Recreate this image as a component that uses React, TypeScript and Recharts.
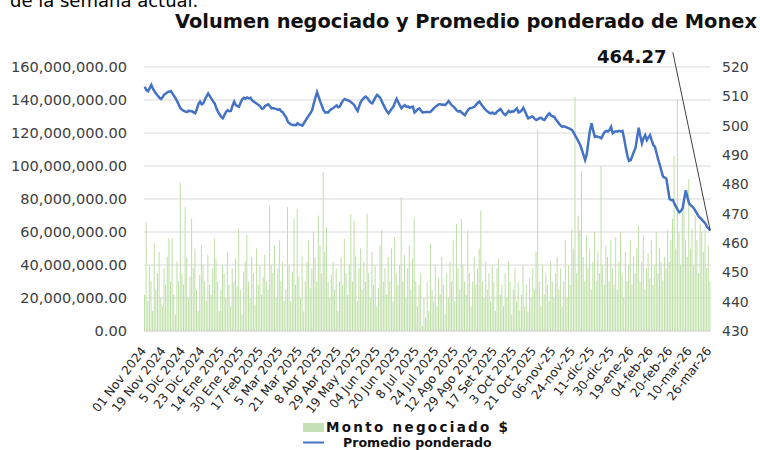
import React from "react";
import { Bar, CartesianGrid, ComposedChart, Line, ReferenceLine, XAxis, YAxis } from "recharts";

const TICK_LABELS = [
  "01 Nov 2024", "19 Nov 2024", "5 Dic 2024", "23 Dic 2024", "14 Ene 2025", "30 Ene 2025",
  "17 Feb 2025", "5 Mar 2025", "21 Mar 2025", "8 Abr 2025", "29 Abr 2025", "19 May 2025",
  "04 Jun 2025", "20 Jun 2025", "8 Jul 2025", "24 Jul 2025", "12 Ago 2025", "29 Ago 2025",
  "17 Set 2025", "3 Oct 2025", "21 Oct 2025", "06-nov-25", "24-nov-25", "11-dic-25",
  "30-dic-25", "19-ene-26", "04-feb-26", "20-feb-26", "10-mar-26", "26-mar-26",
];

// one point per trading day (sampled), 12 per labelled interval
const PRICE = [
  513.3, 512.0, 511.7, 512.8, 513.9, 512.6, 511.6, 510.9, 510.2, 509.5, 509.1, 509.8, 510.6, 511.0, 511.4, 511.6, 511.8, 511.0, 510.1, 509.3, 508.2, 507.0, 505.9, 505.4, 505.0, 504.8, 504.6, 505.1, 504.9,
  505.0, 504.5, 504.2, 505.6, 507.4, 508.2, 507.3, 507.6, 508.9, 510.0, 511.0, 510.1, 509.2, 508.3, 507.6, 506.0, 504.8, 503.9, 503.0, 502.5, 503.6, 504.7, 505.3, 504.9, 505.0, 506.8, 508.2, 507.0, 506.7,
  506.5, 507.9, 509.0, 509.5, 509.2, 509.6, 509.3, 509.5, 508.7, 508.2, 507.8, 507.5, 507.0, 506.6, 505.8, 505.9, 506.7, 507.0, 507.3, 506.6, 505.9, 506.0, 505.8, 505.7, 505.4, 505.6, 504.9, 504.5, 503.6,
  502.8, 501.4, 500.8, 500.4, 500.2, 500.3, 500.1, 500.8, 500.4, 500.3, 500.0, 500.9, 501.8, 502.7, 503.5, 504.3, 505.3, 507.5, 509.6, 511.4, 509.8, 508.2, 506.8, 505.3, 504.5, 504.6, 504.5, 505.3, 505.7,
  506.0, 506.5, 506.9, 506.3, 506.5, 507.6, 508.6, 509.1, 508.8, 508.7, 508.4, 508.0, 507.5, 507.0, 505.8, 505.0, 506.7, 508.2, 508.9, 509.5, 509.9, 509.4, 508.6, 507.9, 507.6, 508.6, 509.7, 510.5, 510.0,
  509.4, 508.1, 507.0, 505.9, 504.9, 504.2, 505.0, 505.8, 506.5, 507.9, 509.1, 508.0, 506.9, 505.9, 506.6, 507.0, 506.4, 506.6, 506.1, 506.3, 506.5, 504.5, 505.0, 505.6, 505.9, 505.1, 504.5, 504.6, 504.7,
  504.7, 504.6, 504.8, 505.4, 506.0, 506.5, 506.9, 507.3, 507.3, 507.1, 507.2, 507.0, 507.7, 508.4, 507.6, 506.9, 506.5, 505.9, 505.2, 504.8, 505.0, 504.5, 504.0, 503.6, 504.5, 505.4, 505.9, 506.0, 506.2,
  506.5, 507.2, 507.8, 508.2, 507.3, 506.6, 505.9, 505.3, 504.8, 504.4, 504.2, 504.5, 504.0, 504.2, 504.9, 505.3, 505.7, 504.8, 504.0, 503.6, 504.3, 505.0, 504.6, 504.9, 504.8, 505.4, 505.9, 504.5, 504.8,
  505.2, 506.1, 504.9, 503.6, 502.5, 502.7, 503.1, 503.0, 502.3, 501.9, 502.2, 502.6, 502.7, 502.1, 501.9, 502.8, 503.6, 504.2, 503.5, 503.2, 503.0, 502.1, 501.4, 500.7, 500.0, 499.6, 499.8, 499.6, 499.3,
  499.1, 498.8, 498.5, 497.6, 496.5, 495.6, 494.5, 493.4, 491.8, 490.0, 488.3, 490.2, 494.5, 498.4, 500.8, 498.3, 496.2, 496.4, 496.2, 496.0, 495.7, 496.9, 497.8, 498.2, 498.0, 498.5, 499.6, 497.4, 497.9,
  498.1, 498.0, 498.2, 498.0, 498.2, 495.7, 492.6, 489.8, 488.0, 488.2, 489.6, 491.0, 492.3, 495.8, 499.3, 496.5, 494.0, 495.8, 496.8, 495.1, 496.0, 496.8, 495.0, 493.4, 492.8, 490.6, 488.5, 486.6, 484.5,
  482.6, 482.3, 482.0, 478.5, 475.0, 474.6, 474.7, 473.4, 472.4, 471.3, 470.5, 470.9, 471.8, 475.0, 478.0, 475.6, 473.5, 472.9, 472.4, 471.8, 470.9, 469.9, 469.0, 468.5, 467.9, 467.3, 466.7, 465.5, 465.0,
  464.27,
];

// monto negociado, millones de pesos
const VOLUME = [
  22, 66, 18, 40, 30, 12, 53, 25, 35, 48, 20, 15, 38, 28, 45, 56, 30, 56, 22, 10, 42, 30, 90, 35, 28, 75, 45, 20, 33,
  68, 38, 50, 25, 12, 34, 52, 40, 30, 18, 46, 28, 22, 38, 56, 44, 30, 12, 25, 40, 35, 20, 48, 28, 15, 38, 30, 44, 27,
  62, 25, 10, 36, 42, 58, 30, 20, 45, 35, 16, 50, 28, 40, 22, 33, 46, 30, 25, 76, 40, 35, 52, 20, 38, 55, 30, 42, 18,
  25, 75, 40, 18, 36, 68, 28, 74, 33, 20, 45, 12, 30, 42, 55, 26, 38, 60, 45, 30, 70, 52, 35, 96, 48, 63, 30, 20, 34,
  42, 25, 38, 12, 30, 45, 28, 56, 35, 22, 40, 71, 30, 67, 45, 18, 38, 50, 25, 42, 30, 71, 35, 20, 48, 28, 40, 15, 26,
  52, 61, 30, 38, 22, 45, 30, 50, 18, 57, 35, 28, 40, 81, 30, 46, 20, 38, 52, 25, 44, 69, 30, 15, 28, 35, 3, 20, 8,
  30, 12, 53, 25, 18, 40, 15, 32, 22, 45, 28, 10, 35, 20, 42, 30, 55, 18, 65, 38, 25, 68, 40, 30, 22, 61, 35, 15, 30,
  45, 28, 38, 50, 73, 30, 20, 42, 25, 35, 18, 40, 30, 12, 38, 44, 22, 28, 15, 35, 20, 42, 30, 10, 25, 38, 18, 30, 12,
  22, 40, 15, 28, 12, 32, 20, 38, 25, 48, 122, 30, 15, 40, 22, 35, 28, 18, 42, 30, 20, 35, 45, 25, 38, 15, 30, 55, 20,
  40, 28, 62, 50, 142, 35, 70, 61, 97, 45, 30, 58, 38, 50, 25, 42, 60, 30, 48, 35, 100, 40, 28, 52, 45, 30, 55, 38, 28,
  57, 25, 42, 60, 35, 20, 48, 30, 40, 55, 28, 45, 35, 50, 64, 30, 42, 58, 25, 38, 47, 32, 55, 28, 40, 60, 35, 50, 42,
  30, 45, 38, 61, 42, 55, 68, 106, 50, 140, 60, 40, 72, 78, 55, 45, 92, 50, 62, 40, 70, 55, 35, 65, 60, 48, 61, 38, 52,
  30,
];

const LEFT_TICKS = [0, 20, 40, 60, 80, 100, 120, 140, 160];
const RIGHT_TICKS = [430, 440, 450, 460, 470, 480, 490, 500, 510, 520];
const LAST_PRICE = 464.27;

const BAR_GREEN = "#bddfa6";
const LINE_BLUE = "#4472C4";
const FONT = "DejaVu Sans, Verdana, sans-serif";

const data = PRICE.map((price, i) => ({ idx: i, price, volume: VOLUME[i] }));
const lastIdx = data.length - 1;

function DateTick({ x, y, payload }: any) {
  const label = payload.value % 12 === 0 ? TICK_LABELS[payload.value / 12] : undefined;
  if (!label) return null;
  const tx = x + 2;
  const ty = y + 12;
  return (
    <text x={tx} y={ty} transform={`rotate(-52, ${tx}, ${ty})`} textAnchor="end" fontSize={12.3} fill="#1f1f1f" fontFamily={FONT}>
      {label}
    </text>
  );
}

export default function App() {
  return (
    <div style={{ position: "absolute", left: 0, top: 0, width: 760, height: 450, background: "#fff", overflow: "hidden" }}>
      <ComposedChart width={760} height={450} data={data} margin={{ top: 67, right: 0, bottom: 0, left: 0 }} barCategoryGap={0}>
        <CartesianGrid yAxisId="left" vertical={false} stroke="#d9d9d9" />
        <XAxis dataKey="idx" height={119} interval={0} tickLine={false} axisLine={{ stroke: "#d9d9d9" }} tick={<DateTick />} />
        <YAxis
          yAxisId="left"
          width={144}
          domain={[0, 160]}
          ticks={LEFT_TICKS}
          axisLine={false}
          tickLine={false}
          tickSize={0}
          tickMargin={17}
          tick={{ fontSize: 14.6, fill: "#404040", fontFamily: FONT }}
          tickFormatter={(v: number) => (v * 1e6).toLocaleString("en-US", { minimumFractionDigits: 2, maximumFractionDigits: 2 })}
        />
        <YAxis
          yAxisId="right"
          orientation="right"
          width={49}
          domain={[430, 520]}
          ticks={RIGHT_TICKS}
          axisLine={false}
          tickLine={false}
          tickSize={0}
          tickMargin={11}
          tick={{ fontSize: 14, fill: "#404040", fontFamily: FONT }}
        />
        <Bar yAxisId="left" dataKey="volume" fill={BAR_GREEN} barSize={1} isAnimationActive={false} />
        <Line yAxisId="right" dataKey="price" stroke={LINE_BLUE} strokeWidth={2.5} dot={false} type="linear" isAnimationActive={false} />
        <ReferenceLine
          yAxisId="right"
          ifOverflow="visible"
          segment={[{ x: 325, y: 525 }, { x: lastIdx, y: LAST_PRICE }]}
          stroke="#404040"
          strokeWidth={1}
        />
      </ComposedChart>
      <svg width={760} height={450} style={{ position: "absolute", left: 0, top: 0, pointerEvents: "none" }}>
        <text x={10} y={7} fontSize={18} fontFamily={FONT} fill="#000">de la semana actual.</text>
        <text x={175} y={28} fontSize={19.4} fontWeight="bold" fontFamily={FONT} fill="#111">
          Volumen negociado y Promedio ponderado de Monex
        </text>
        <text x={597} y={63} fontSize={18} fontWeight="bold" fontFamily={FONT} fill="#111">{LAST_PRICE}</text>
        <rect x={303} y={423} width={21} height={9} fill="#c5e0b4" />
        <text x={326} y={432} fontSize={13.5} fontWeight="bold" fontFamily={FONT} fill="#111" textLength={182} lengthAdjust="spacing">
          Monto negociado $
        </text>
        <line x1={303} x2={324} y1={442.5} y2={442.5} stroke={LINE_BLUE} strokeWidth={2} />
        <text x={343} y={447} fontSize={12.6} fontWeight="bold" fontFamily={FONT} fill="#111">Promedio ponderado</text>
      </svg>
    </div>
  );
}
